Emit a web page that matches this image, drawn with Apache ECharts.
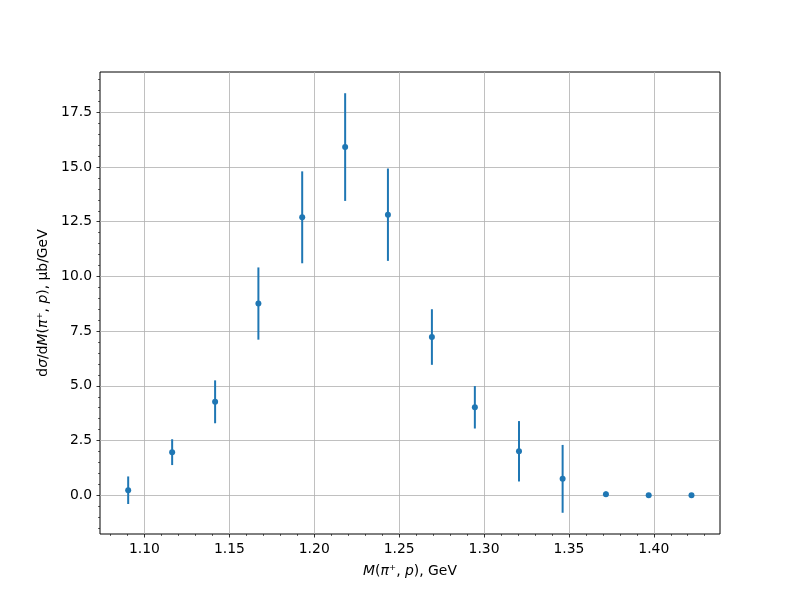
<!DOCTYPE html>
<html>
<head>
<meta charset="utf-8">
<script src="https://cdn.jsdelivr.net/npm/echarts@6/dist/echarts.min.js"></script>
<style>html,body{margin:0;padding:0;background:#fff;}#c{width:800px;height:600px;}</style>
</head>
<body>
<div id="c"></div>
<script>
const xValues = [1.0904, 1.1163, 1.1416, 1.1671, 1.1929, 1.2182, 1.2434, 1.2693, 1.2946, 1.3206, 1.3463, 1.3718, 1.3970, 1.4222];
const yValues = [0.23, 1.97, 4.27, 8.76, 12.70, 15.91, 12.82, 7.23, 4.02, 2.01, 0.75, 0.05, 0.0, 0.0];
const yErrors = [0.63, 0.59, 0.98, 1.65, 2.10, 2.46, 2.11, 1.27, 0.97, 1.38, 1.55, 0.12, 0.0, 0.0];

const xMajorTicks = [1.10, 1.15, 1.20, 1.25, 1.30, 1.35, 1.40];
const xMinorTicks = [1.08, 1.09, 1.11, 1.12, 1.13, 1.14, 1.16, 1.17, 1.18, 1.19, 1.21, 1.22, 1.23, 1.24,
  1.26, 1.27, 1.28, 1.29, 1.31, 1.32, 1.33, 1.34, 1.36, 1.37, 1.38, 1.39, 1.41, 1.42, 1.43];
const yMajorTicks = [0, 2.5, 5.0, 7.5, 10.0, 12.5, 15.0, 17.5];
const yMinorTicks = [-1.5, -1.0, -0.5, 0.5, 1.0, 1.5, 2.0, 3.0, 3.5, 4.0, 4.5, 5.5, 6.0, 6.5, 7.0,
  8.0, 8.5, 9.0, 9.5, 10.5, 11.0, 11.5, 12.0, 13.0, 13.5, 14.0, 14.5, 15.5, 16.0, 16.5, 17.0,
  18.0, 18.5, 19.0];

const xMin = 1.0738, xMax = 1.4390;
const yMin = -1.77, yMax = 19.34;

const font = 'DejaVu Sans';
const fs = 13.9;

const points = xValues.map((x, i) => [x, yValues[i], yErrors[i]]);

const chart = echarts.init(document.getElementById('c'), null, {renderer: 'canvas'});
chart.setOption({
  animation: false,
  backgroundColor: '#fff',
  grid: {left: 100, top: 72, width: 620, height: 462, show: true, borderColor: '#000', borderWidth: 1, backgroundColor: 'transparent'},
  xAxis: [{
    type: 'value', min: xMin, max: xMax, position: 'bottom',
    axisLine: {show: false, onZero: false},
    axisTick: {show: true, inside: false, length: 3.5, lineStyle: {color: '#000', width: 0.8}, customValues: xMajorTicks},
    axisLabel: {show: true, customValues: xMajorTicks, formatter: v => v.toFixed(2), color: '#000', fontFamily: font, fontSize: fs, margin: 8},
    splitLine: {show: true, lineStyle: {color: '#b0b0b0', width: 0.8}},
    name: '{i|M}({i|π}⁺, {i|p}), GeV',
    nameLocation: 'middle', nameGap: 30,
    nameTextStyle: {color: '#000', fontFamily: font, fontSize: fs, rich: {i: {fontStyle: 'italic', fontFamily: font, fontSize: fs, color: '#000'}}}
  }, {
    type: 'value', min: xMin, max: xMax, position: 'bottom',
    axisLine: {show: false, onZero: false},
    axisTick: {show: true, inside: false, length: 2, lineStyle: {color: '#000', width: 0.6}, customValues: xMinorTicks},
    axisLabel: {show: false},
    splitLine: {show: false}
  }],
  yAxis: [{
    type: 'value', min: yMin, max: yMax, position: 'left',
    axisLine: {show: false, onZero: false},
    axisTick: {show: true, inside: false, length: 3.5, lineStyle: {color: '#000', width: 0.8}, customValues: yMajorTicks},
    axisLabel: {show: true, customValues: yMajorTicks, formatter: v => v.toFixed(1), color: '#000', fontFamily: font, fontSize: fs, margin: 8},
    splitLine: {show: true, lineStyle: {color: '#b0b0b0', width: 0.8}},
    name: 'd{i|σ}/d{i|M}({i|π}⁺, {i|p}), μb/GeV',
    nameLocation: 'middle', nameGap: 50, nameRotate: 90,
    nameTextStyle: {color: '#000', fontFamily: font, fontSize: fs, rich: {i: {fontStyle: 'italic', fontFamily: font, fontSize: fs, color: '#000'}}}
  }, {
    type: 'value', min: yMin, max: yMax, position: 'left',
    axisLine: {show: false, onZero: false},
    axisTick: {show: true, inside: false, length: 2, lineStyle: {color: '#000', width: 0.6}, customValues: yMinorTicks},
    axisLabel: {show: false},
    splitLine: {show: false}
  }],
  series: [{
    type: 'custom',
    xAxisIndex: 0, yAxisIndex: 0,
    data: points,
    clip: true,
    renderItem: function (params, api) {
      const x = api.value(0), y = api.value(1), e = api.value(2);
      const p1 = api.coord([x, y - e]);
      const p2 = api.coord([x, y + e]);
      return {
        type: 'line',
        shape: {x1: p1[0], y1: p1[1], x2: p2[0], y2: p2[1]},
        style: {stroke: '#1f77b4', lineWidth: 2}
      };
    },
    z: 2
  }, {
    type: 'scatter',
    xAxisIndex: 0, yAxisIndex: 0,
    data: points.map(p => [p[0], p[1]]),
    symbol: 'circle', symbolSize: 6,
    itemStyle: {color: '#1f77b4', opacity: 1},
    z: 3
  }]
});
</script>
</body>
</html>
